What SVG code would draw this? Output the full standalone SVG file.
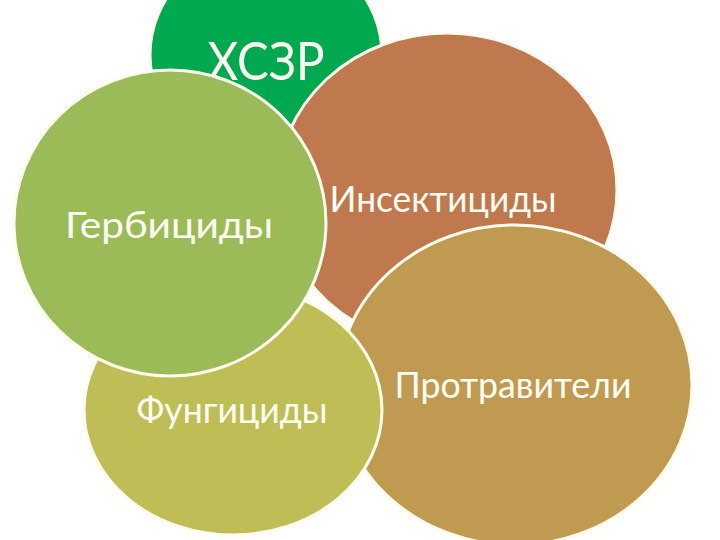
<svg xmlns="http://www.w3.org/2000/svg" width="720" height="540" viewBox="0 0 720 540">
  <style>
    .c { stroke: #FFFCEE; stroke-width: 3; }
    .t { font-family: Lato, "Open Sans", "Liberation Sans", sans-serif; fill: #FFFEF2; text-anchor: middle; }
  </style>
  <rect width="720" height="540" fill="#FFFFFF"/>
  <g id="node-hszr">
    <ellipse class="c" cx="266" cy="55" rx="116" ry="110" fill="#00A84F"/>
    <text class="t" x="266" y="80" font-size="52" textLength="117" lengthAdjust="spacingAndGlyphs">ХСЗР</text>
  </g>
  <g id="node-insekticidy">
    <ellipse class="c" cx="447" cy="190" rx="170" ry="157" fill="#C0784F"/>
    <text class="t" x="443" y="212" font-size="36" textLength="227" lengthAdjust="spacingAndGlyphs">Инсектициды</text>
  </g>
  <g id="node-protraviteli">
    <ellipse class="c" cx="515" cy="385" rx="177" ry="160" fill="#C19A52"/>
    <text class="t" x="513" y="398" font-size="36" textLength="237" lengthAdjust="spacingAndGlyphs">Протравители</text>
  </g>
  <g id="node-fungicidy">
    <ellipse class="c" cx="233" cy="410" rx="149" ry="125" fill="#BFBD56"/>
    <text class="t" x="232" y="423" font-size="36" textLength="191" lengthAdjust="spacingAndGlyphs">Фунгициды</text>
  </g>
  <g id="node-gerbicidy">
    <ellipse class="c" cx="170" cy="223" rx="156" ry="153" fill="#9BBB59"/>
    <text class="t" x="169" y="238" font-size="36" textLength="208" lengthAdjust="spacingAndGlyphs">Гербициды</text>
  </g>
  <g id="connectors"/>
</svg>
